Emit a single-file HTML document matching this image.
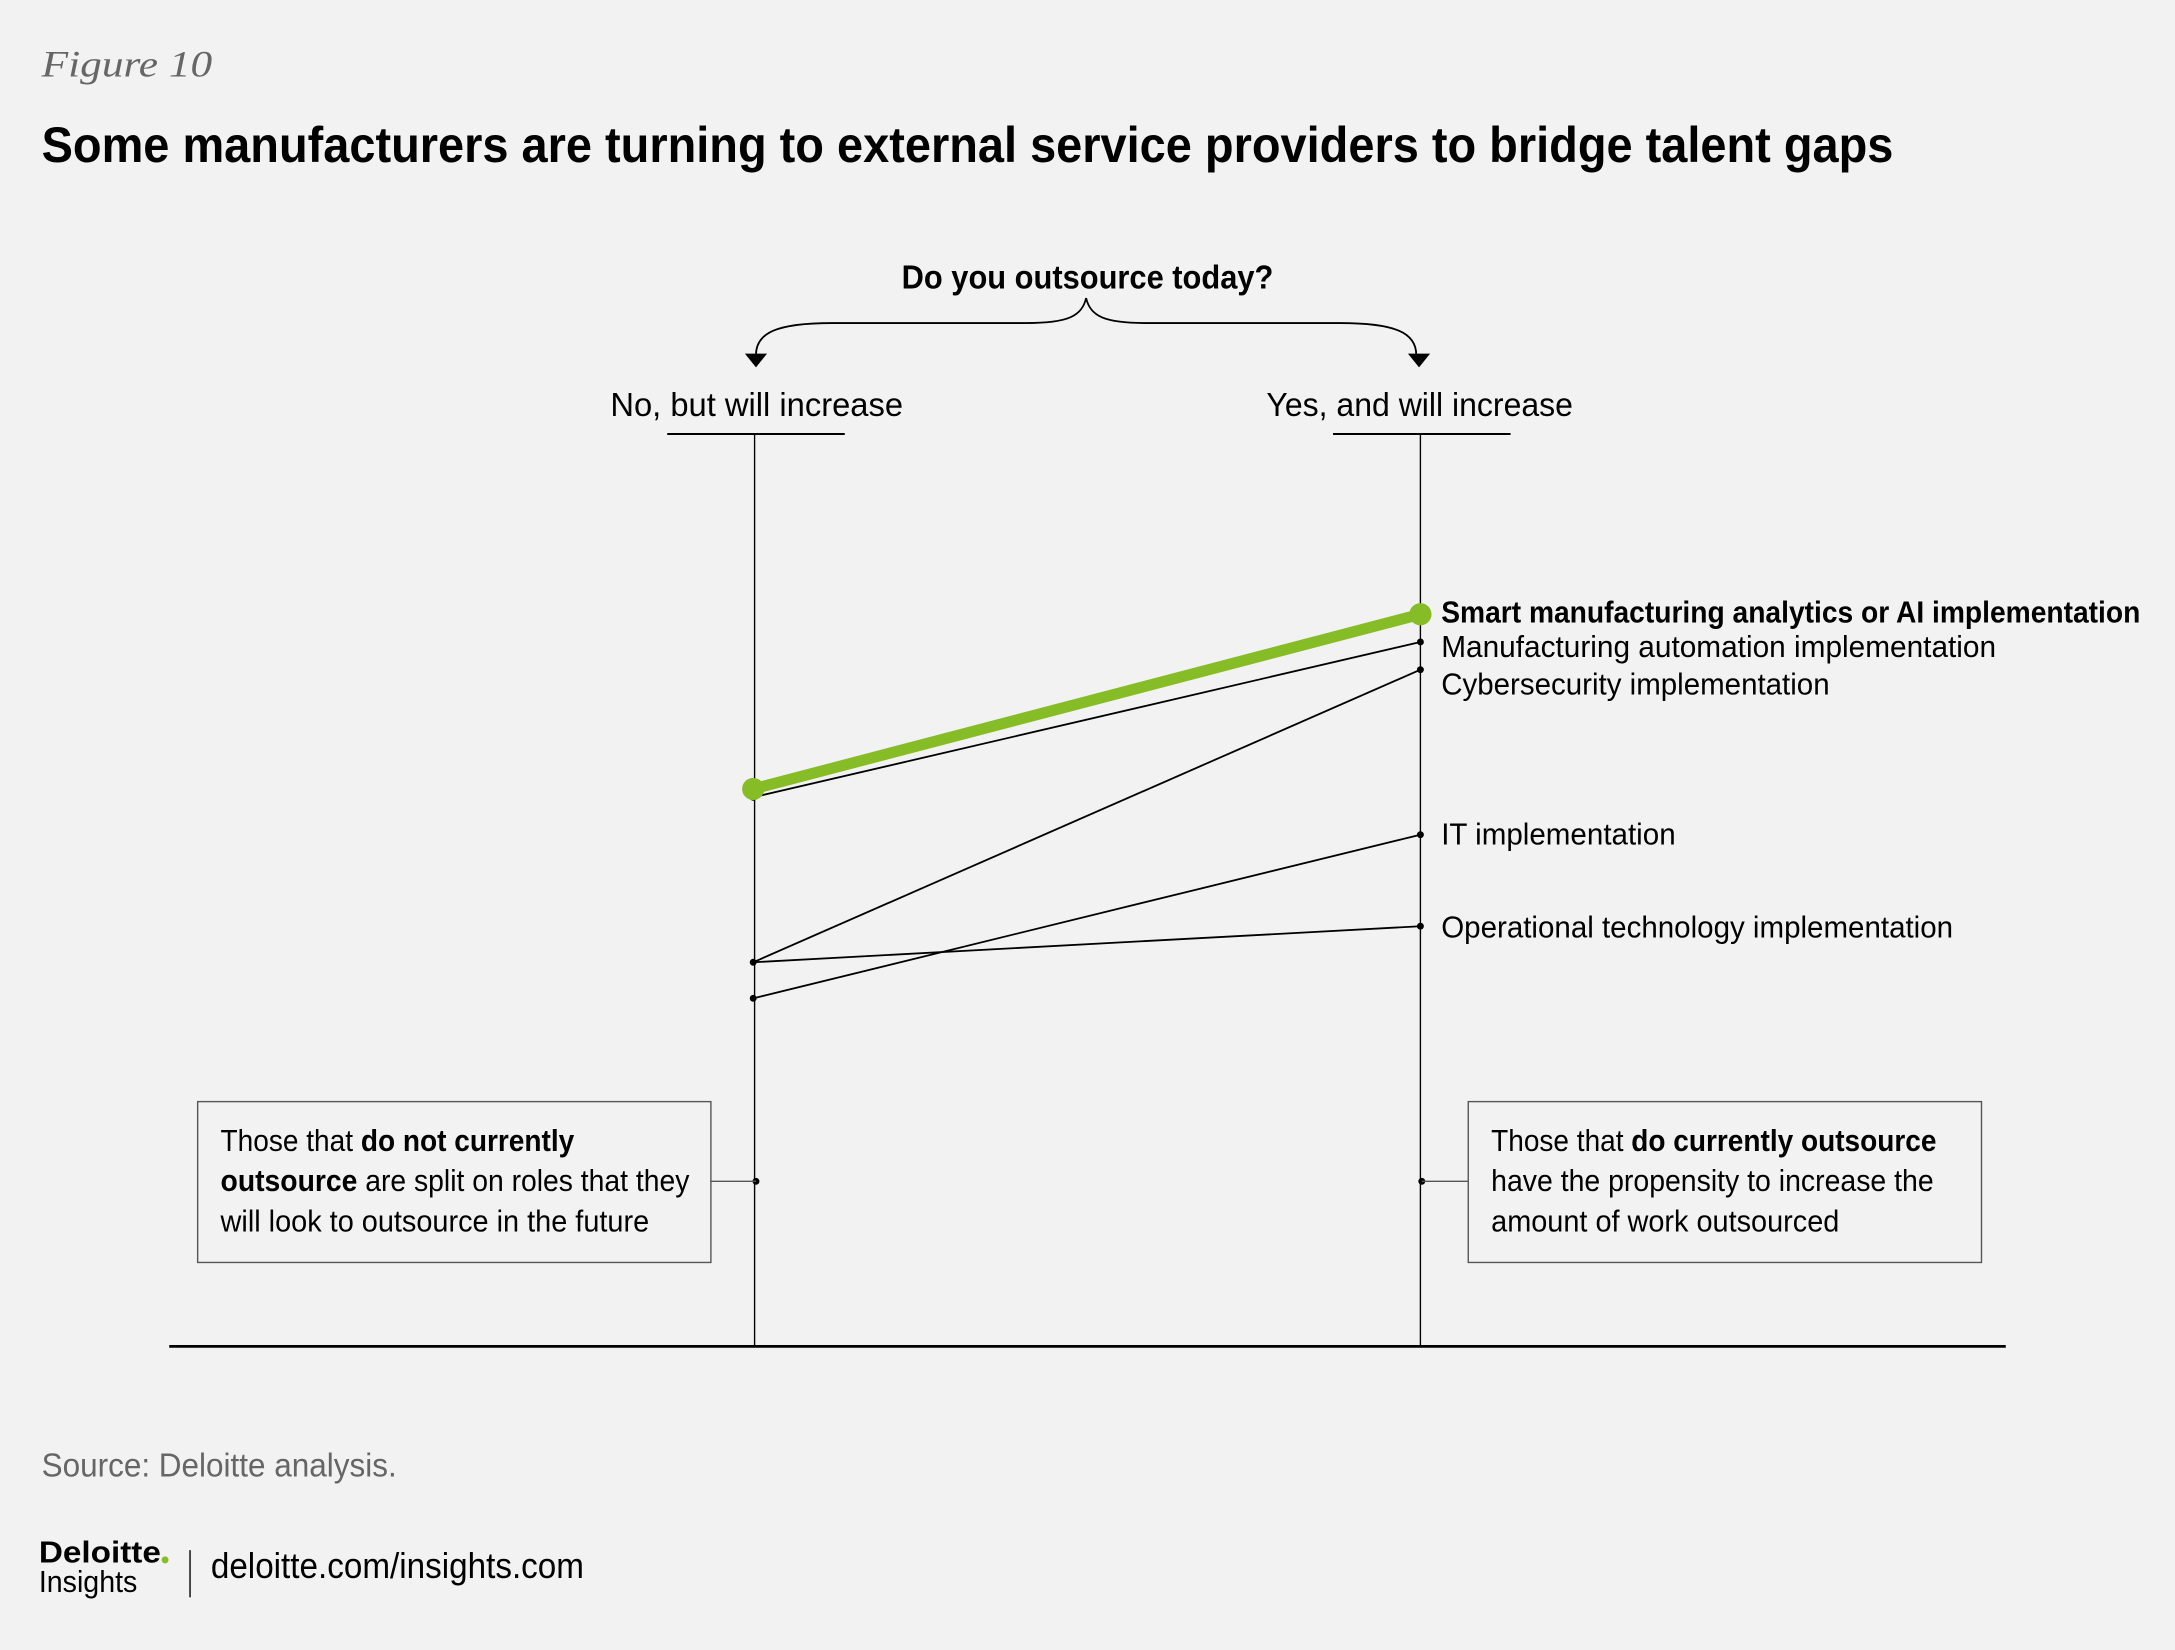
<!DOCTYPE html>
<html><head><meta charset="utf-8"><style>html,body{margin:0;padding:0;background:#f2f2f2}svg{display:block}</style></head><body>
<svg width="2175" height="1650" viewBox="0 0 1568 1190" preserveAspectRatio="none" xmlns="http://www.w3.org/2000/svg" font-family="Liberation Sans, sans-serif">
<rect width="1568" height="1190" fill="#f2f2f2"/>
<text x="30" y="55" font-family="Liberation Serif, serif" font-style="italic" font-size="27" fill="#666" textLength="123" lengthAdjust="spacingAndGlyphs">Figure 10</text>
<text x="30" y="117" font-weight="bold" font-size="36" fill="#000" textLength="1335" lengthAdjust="spacingAndGlyphs">Some manufacturers are turning to external service providers to bridge talent gaps</text>
<text x="650" y="208" font-weight="bold" font-size="24" textLength="268" lengthAdjust="spacingAndGlyphs">Do you outsource today?</text>
<path d="M545,256 C545,240 560,233 600,233 L740,233 C770,233 780,228 783,215 C786,228 796,233 826,233 L966,233 C1006,233 1021,240 1021,256" fill="none" stroke="#000" stroke-width="1.3"/>
<polygon points="537,255 553,255 545,265" fill="#000"/>
<polygon points="1015,255 1031,255 1023,265" fill="#000"/>
<text x="440" y="300" font-size="24" textLength="211" lengthAdjust="spacingAndGlyphs">No, but will increase</text>
<text x="913" y="300" font-size="24" textLength="221" lengthAdjust="spacingAndGlyphs">Yes, and will increase</text>
<line x1="481" y1="313" x2="609" y2="313" stroke="#000" stroke-width="1.5"/>
<line x1="961" y1="313" x2="1089" y2="313" stroke="#000" stroke-width="1.5"/>
<line x1="544" y1="313" x2="544" y2="971" stroke="#000" stroke-width="1"/>
<line x1="1024" y1="313" x2="1024" y2="971" stroke="#000" stroke-width="1"/>
<line x1="122" y1="971" x2="1446" y2="971" stroke="#000" stroke-width="2"/>
<g stroke="#000" stroke-width="1.3">
<line x1="543" y1="575" x2="1024" y2="463"/>
<line x1="543" y1="694" x2="1024" y2="483"/>
<line x1="543" y1="694" x2="1024" y2="668"/>
<line x1="543" y1="720" x2="1024" y2="602"/>
</g>
<g fill="#000">
<circle cx="543" cy="575" r="2.5"/><circle cx="543" cy="694" r="2.5"/><circle cx="543" cy="720" r="2.5"/>
<circle cx="1024" cy="463" r="2.5"/><circle cx="1024" cy="483" r="2.5"/><circle cx="1024" cy="602" r="2.5"/><circle cx="1024" cy="668" r="2.5"/>
<circle cx="545" cy="852" r="2.5"/><circle cx="1025" cy="852" r="2.5"/>
</g>
<line x1="543" y1="569" x2="1024" y2="443" stroke="#86bc25" stroke-width="8"/>
<circle cx="543" cy="569" r="8" fill="#86bc25"/>
<circle cx="1024" cy="443" r="8" fill="#86bc25"/>
<text x="1039" y="449" font-size="22" font-weight="bold" textLength="504" lengthAdjust="spacingAndGlyphs">Smart manufacturing analytics or AI implementation</text>
<text x="1039" y="474" font-size="22" textLength="400" lengthAdjust="spacingAndGlyphs">Manufacturing automation implementation</text>
<text x="1039" y="501" font-size="22" textLength="280" lengthAdjust="spacingAndGlyphs">Cybersecurity implementation</text>
<text x="1039" y="609" font-size="22" textLength="169" lengthAdjust="spacingAndGlyphs">IT implementation</text>
<text x="1039" y="676" font-size="22" textLength="369" lengthAdjust="spacingAndGlyphs">Operational technology implementation</text>
<rect x="142.5" y="794.5" width="370" height="116" fill="none" stroke="#555" stroke-width="1"/>
<rect x="1058.5" y="794.5" width="370" height="116" fill="none" stroke="#555" stroke-width="1"/>
<line x1="512" y1="852" x2="545" y2="852" stroke="#555" stroke-width="1"/>
<line x1="1025" y1="852" x2="1058" y2="852" stroke="#555" stroke-width="1"/>
<g font-size="22">
<text x="159" y="830" textLength="255" lengthAdjust="spacingAndGlyphs">Those that <tspan font-weight="bold">do not currently</tspan></text>
<text x="159" y="859" textLength="338" lengthAdjust="spacingAndGlyphs"><tspan font-weight="bold">outsource</tspan> are split on roles that they</text>
<text x="159" y="888" textLength="309" lengthAdjust="spacingAndGlyphs">will look to outsource in the future</text>
<text x="1075" y="830" textLength="321" lengthAdjust="spacingAndGlyphs">Those that <tspan font-weight="bold">do currently outsource</tspan></text>
<text x="1075" y="859" textLength="319" lengthAdjust="spacingAndGlyphs">have the propensity to increase the</text>
<text x="1075" y="888" textLength="251" lengthAdjust="spacingAndGlyphs">amount of work outsourced</text>
</g>
<text x="30" y="1065" font-size="24" fill="#666" textLength="256" lengthAdjust="spacingAndGlyphs">Source: Deloitte analysis.</text>
<text x="28" y="1127" font-size="22" font-weight="bold" textLength="88" lengthAdjust="spacingAndGlyphs">Deloitte</text>
<circle cx="119" cy="1125" r="2.5" fill="#86bc25"/>
<text x="28" y="1148" font-size="22" textLength="71" lengthAdjust="spacingAndGlyphs">Insights</text>
<line x1="137" y1="1118" x2="137" y2="1152" stroke="#000" stroke-width="1"/>
<text x="152" y="1138" font-size="26" textLength="269" lengthAdjust="spacingAndGlyphs">deloitte.com/insights.com</text>
</svg>
</body></html>
